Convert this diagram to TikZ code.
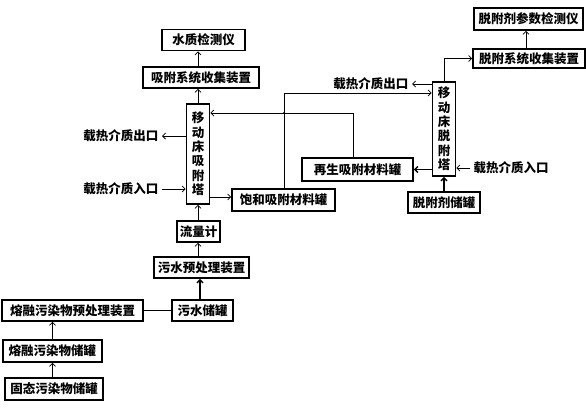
\documentclass[tikz,border=0pt]{standalone}
\usepackage{fontspec}
\newfontfamily\cjk{Noto Sans CJK SC}
\usepackage{tikz}
\usetikzlibrary{arrows.meta,positioning,calc}

\begin{document}
\begin{tikzpicture}[x=1pt, y=-1pt,
  font=\cjk\bfseries\fontsize{12.5}{14.4}\selectfont,
  box/.style={draw, line width=1.6pt, inner sep=0pt, minimum height=21pt},
  tower/.style={draw, line width=1.6pt, inner sep=0pt, align=center, minimum width=23pt},
  flow/.style={-{Straight Barb[length=3pt,width=6pt]}, line width=0.8pt},
  bigflow/.style={flow, line width=1.5pt}]
  \useasboundingbox (0,0) rectangle (586,408);

  % adsorption side
  \node[box, minimum width=83pt] (water) at (203.5,40) {水质检测仪};
  \node[box, minimum width=116pt] (adsColl) at (201,77.5) {吸附系统收集装置};
  \node[tower, minimum height=100pt] (adsTower) at (198,154) {移\\动\\床\\吸\\附\\塔};
  \node[box, minimum width=103pt, minimum height=22pt] (satTank) at (283.5,200) {饱和吸附材料罐};
  \node[box, minimum width=43pt] (flowMeter) at (198.5,231.5) {流量计};
  \node[box, minimum width=95pt] (pre) at (201.5,267.5) {污水预处理装置};
  \node[box, minimum width=61pt] (sewTank) at (202.5,310.5) {污水储罐};
  \node[box, minimum width=141pt] (meltPre) at (72.5,310.5) {熔融污染物预处理装置};
  \node[box, minimum width=99pt, minimum height=22pt] (meltTank) at (52.5,351) {熔融污染物储罐};
  \node[box, minimum width=98pt, minimum height=22pt] (solid) at (54,389) {固态污染物储罐};

  % desorption side
  \node[box, minimum width=109pt, minimum height=22pt] (desMeter) at (528.5,19) {脱附剂参数检测仪};
  \node[box, minimum width=112pt, minimum height=19pt] (desColl) at (529,58.5) {脱附系统收集装置};
  \node[tower, minimum height=94pt] (desTower) at (444,129) {移\\动\\床\\脱\\附\\塔};
  \node[box, minimum width=111pt, minimum height=23pt] (regTank) at (357.5,169.5) {再生吸附材料罐};
  \node[box, minimum width=72pt] (desStore) at (444,202.5) {脱附剂储罐};

  % heat carrier
  \node[anchor=east] (outL) at (162,136) {载热介质出口};
  \node[anchor=east] (inL) at (162,189) {载热介质入口};
  \node[anchor=east] (outR) at (412,84) {载热介质出口};
  \node[anchor=west] (inR) at (470,168) {载热介质入口};

  % main column
  \draw[flow] (solid.north -| meltTank.south) -- (meltTank.south);
  \draw[flow] (meltTank.north) -- (meltTank.north |- meltPre.south);
  \draw[line width=1.5pt] (meltPre.east) -- (sewTank.west);
  \draw[bigflow] (sewTank.north -| 200,0) -- (pre.south -| 200,0);
  \draw[flow] (pre.north -| adsTower) -- (flowMeter.south -| adsTower);
  \draw[flow] (flowMeter.north -| adsTower) -- (adsTower.south);
  \draw[flow] (adsTower.north) -- (adsColl.south -| adsTower);
  \draw[flow] (adsColl.north -| adsTower) -- (water.south -| adsTower);

  \draw[flow] (adsTower.west |- outL.east) -- (outL.east);
  \draw[flow] (inL.east) -- (adsTower.west |- inL.east);
  \draw[flow] (adsTower.east |- 0,197) -- (satTank.west |- 0,197);

  % material loop
  \coordinate (satIn) at (desTower.west |- 0,93);
  \coordinate (regIn) at (adsTower.east |- 0,113);
  \draw[flow] (satTank.north -| 284,0) |- (satIn);
  \draw[flow] (regTank.north -| 353,0) |- (regIn);
  \fill (284,113) circle (1.2pt);
  \draw[bigflow] (desTower.west |- regTank.east) -- (regTank.east);

  \draw[flow] (desTower.west |- outR.east) -- (outR.east);
  \draw[flow] (inR.west) -- (desTower.east |- inR.west);
  \draw[bigflow] (desStore.north) -- (desTower.south);
  \draw[flow] (desTower.north) |- (desColl.west);
  \draw[flow] (desColl.north -| 526,0) -- (desMeter.south -| 526,0);
\end{tikzpicture}
\end{document}
